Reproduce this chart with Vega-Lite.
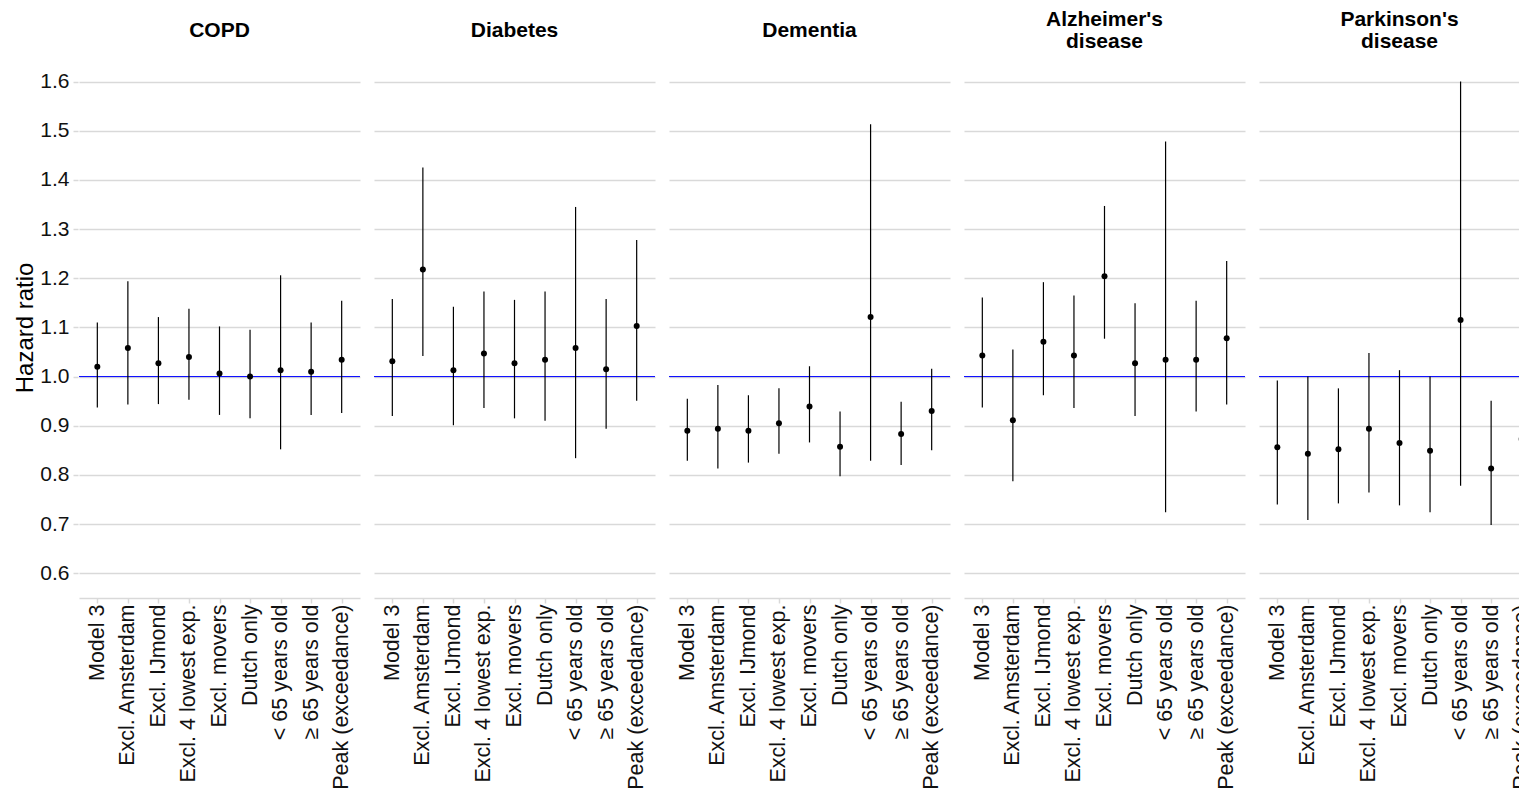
{
  "$schema": "https://vega.github.io/schema/vega-lite/v6.json",
  "padding": {"left": 13, "top": 8, "right": 0, "bottom": 0},
  "background": "white",
  "config": {
    "font": "Liberation Sans",
    "view": {"stroke": null},
    "axis": {"labelFont": "Liberation Sans", "titleFont": "Liberation Sans"}
  },
  "data": {
    "values": [
      {"disease": "COPD", "analysis": "Model 3", "hr": 1.020, "lo": 0.937, "hi": 1.110},
      {"disease": "COPD", "analysis": "Excl. Amsterdam", "hr": 1.058, "lo": 0.943, "hi": 1.194},
      {"disease": "COPD", "analysis": "Excl. IJmond", "hr": 1.027, "lo": 0.944, "hi": 1.121},
      {"disease": "COPD", "analysis": "Excl. 4 lowest exp.", "hr": 1.040, "lo": 0.953, "hi": 1.138},
      {"disease": "COPD", "analysis": "Excl. movers", "hr": 1.006, "lo": 0.922, "hi": 1.102},
      {"disease": "COPD", "analysis": "Dutch only", "hr": 1.000, "lo": 0.915, "hi": 1.095},
      {"disease": "COPD", "analysis": "< 65 years old", "hr": 1.013, "lo": 0.852, "hi": 1.206},
      {"disease": "COPD", "analysis": "≥ 65 years old", "hr": 1.010, "lo": 0.922, "hi": 1.110},
      {"disease": "COPD", "analysis": "Peak (exceedance)", "hr": 1.034, "lo": 0.926, "hi": 1.154},

      {"disease": "Diabetes", "analysis": "Model 3", "hr": 1.031, "lo": 0.920, "hi": 1.158},
      {"disease": "Diabetes", "analysis": "Excl. Amsterdam", "hr": 1.218, "lo": 1.042, "hi": 1.425},
      {"disease": "Diabetes", "analysis": "Excl. IJmond", "hr": 1.013, "lo": 0.901, "hi": 1.142},
      {"disease": "Diabetes", "analysis": "Excl. 4 lowest exp.", "hr": 1.047, "lo": 0.936, "hi": 1.173},
      {"disease": "Diabetes", "analysis": "Excl. movers", "hr": 1.027, "lo": 0.915, "hi": 1.156},
      {"disease": "Diabetes", "analysis": "Dutch only", "hr": 1.034, "lo": 0.910, "hi": 1.173},
      {"disease": "Diabetes", "analysis": "< 65 years old", "hr": 1.058, "lo": 0.834, "hi": 1.345},
      {"disease": "Diabetes", "analysis": "≥ 65 years old", "hr": 1.015, "lo": 0.894, "hi": 1.158},
      {"disease": "Diabetes", "analysis": "Peak (exceedance)", "hr": 1.103, "lo": 0.951, "hi": 1.278},

      {"disease": "Dementia", "analysis": "Model 3", "hr": 0.890, "lo": 0.829, "hi": 0.955},
      {"disease": "Dementia", "analysis": "Excl. Amsterdam", "hr": 0.894, "lo": 0.813, "hi": 0.983},
      {"disease": "Dementia", "analysis": "Excl. IJmond", "hr": 0.890, "lo": 0.825, "hi": 0.962},
      {"disease": "Dementia", "analysis": "Excl. 4 lowest exp.", "hr": 0.905, "lo": 0.843, "hi": 0.976},
      {"disease": "Dementia", "analysis": "Excl. movers", "hr": 0.939, "lo": 0.866, "hi": 1.021},
      {"disease": "Dementia", "analysis": "Dutch only", "hr": 0.857, "lo": 0.797, "hi": 0.929},
      {"disease": "Dementia", "analysis": "< 65 years old", "hr": 1.121, "lo": 0.829, "hi": 1.513},
      {"disease": "Dementia", "analysis": "≥ 65 years old", "hr": 0.883, "lo": 0.820, "hi": 0.949},
      {"disease": "Dementia", "analysis": "Peak (exceedance)", "hr": 0.930, "lo": 0.850, "hi": 1.016},

      {"disease": "Alzheimer's|disease", "analysis": "Model 3", "hr": 1.043, "lo": 0.937, "hi": 1.161},
      {"disease": "Alzheimer's|disease", "analysis": "Excl. Amsterdam", "hr": 0.911, "lo": 0.787, "hi": 1.055},
      {"disease": "Alzheimer's|disease", "analysis": "Excl. IJmond", "hr": 1.071, "lo": 0.962, "hi": 1.192},
      {"disease": "Alzheimer's|disease", "analysis": "Excl. 4 lowest exp.", "hr": 1.043, "lo": 0.936, "hi": 1.165},
      {"disease": "Alzheimer's|disease", "analysis": "Excl. movers", "hr": 1.204, "lo": 1.077, "hi": 1.347},
      {"disease": "Alzheimer's|disease", "analysis": "Dutch only", "hr": 1.027, "lo": 0.920, "hi": 1.149},
      {"disease": "Alzheimer's|disease", "analysis": "< 65 years old", "hr": 1.034, "lo": 0.724, "hi": 1.478},
      {"disease": "Alzheimer's|disease", "analysis": "≥ 65 years old", "hr": 1.034, "lo": 0.929, "hi": 1.154},
      {"disease": "Alzheimer's|disease", "analysis": "Peak (exceedance)", "hr": 1.078, "lo": 0.943, "hi": 1.235},

      {"disease": "Parkinson's|disease", "analysis": "Model 3", "hr": 0.856, "lo": 0.740, "hi": 0.992},
      {"disease": "Parkinson's|disease", "analysis": "Excl. Amsterdam", "hr": 0.843, "lo": 0.708, "hi": 1.000},
      {"disease": "Parkinson's|disease", "analysis": "Excl. IJmond", "hr": 0.852, "lo": 0.742, "hi": 0.976},
      {"disease": "Parkinson's|disease", "analysis": "Excl. 4 lowest exp.", "hr": 0.894, "lo": 0.764, "hi": 1.048},
      {"disease": "Parkinson's|disease", "analysis": "Excl. movers", "hr": 0.865, "lo": 0.738, "hi": 1.013},
      {"disease": "Parkinson's|disease", "analysis": "Dutch only", "hr": 0.849, "lo": 0.724, "hi": 1.000},
      {"disease": "Parkinson's|disease", "analysis": "< 65 years old", "hr": 1.115, "lo": 0.778, "hi": 1.600},
      {"disease": "Parkinson's|disease", "analysis": "≥ 65 years old", "hr": 0.813, "lo": 0.698, "hi": 0.951},
      {"disease": "Parkinson's|disease", "analysis": "Peak (exceedance)", "hr": 0.873, "lo": 0.760, "hi": 0.990}
    ]
  },
  "facet": {
    "column": {
      "field": "disease",
      "type": "nominal",
      "sort": ["COPD", "Diabetes", "Dementia", "Alzheimer's|disease", "Parkinson's|disease"],
      "title": null,
      "header": {
        "labelExpr": "indexof(datum.value, '|') >= 0 ? [split(datum.value, '|')[0], '\u200b', split(datum.value, '|')[1]] : ['\u200b', datum.value, '\u200b']",
        "labelFont": "Liberation Sans",
        "labelFontSize": 21,
        "labelFontWeight": "bold",
        "labelColor": "#000000",
        "labelLineHeight": 11,
        "labelBaseline": "middle",
        "labelPadding": -5.6
      }
    }
  },
  "spacing": {"column": 12},
  "spec": {
    "width": 281,
    "height": 540.8,
    "encoding": {
      "x": {
        "field": "analysis",
        "type": "nominal",
        "sort": ["Model 3", "Excl. Amsterdam", "Excl. IJmond", "Excl. 4 lowest exp.", "Excl. movers", "Dutch only", "< 65 years old", "≥ 65 years old", "Peak (exceedance)"],
        "scale": {"type": "point", "padding": 0.6},
        "axis": {
          "title": null,
          "labelAngle": -90,
          "labelAlign": "right",
          "labelBaseline": "middle",
          "labelFontSize": 21.5,
          "labelColor": "#111111",
          "labelPadding": 1,
          "labelLimit": 0,
          "domainColor": "#d9d9d9",
          "domainWidth": 1.5,
          "tickColor": "#d9d9d9",
          "tickWidth": 1.5,
          "tickSize": 5,
          "grid": false
        }
      }
    },
    "layer": [
      {
        "transform": [{"filter": "datum.analysis == 'Model 3'"}],
        "mark": {"type": "rule", "color": "#0000ff", "strokeWidth": 1},
        "encoding": {
          "x": null,
          "y": {
            "datum": 1,
            "type": "quantitative",
            "scale": {"domain": [0.55, 1.65], "nice": false, "zero": false},
            "axis": {
              "title": "Hazard ratio",
              "titleFontSize": 24,
              "titleFontWeight": "normal",
              "titleColor": "#000000",
              "titlePadding": 2,
              "values": [0.6, 0.7, 0.8, 0.9, 1.0, 1.1, 1.2, 1.3, 1.4, 1.5, 1.6],
              "format": ".1f",
              "labelFontSize": 21,
              "labelColor": "#111111",
              "labelPadding": 4,
              "domain": false,
              "tickColor": "#d9d9d9",
              "tickWidth": 1.5,
              "tickSize": 5,
              "grid": true,
              "gridColor": "#d9d9d9",
              "gridWidth": 1.5
            }
          }
        }
      },
      {
        "mark": {"type": "rule", "color": "#000000", "strokeWidth": 1.2},
        "encoding": {
          "y": {"field": "lo", "type": "quantitative"},
          "y2": {"field": "hi"}
        }
      },
      {
        "mark": {"type": "point", "filled": true, "color": "#000000", "opacity": 1, "size": 36},
        "encoding": {
          "y": {"field": "hr", "type": "quantitative"}
        }
      }
    ]
  }
}
